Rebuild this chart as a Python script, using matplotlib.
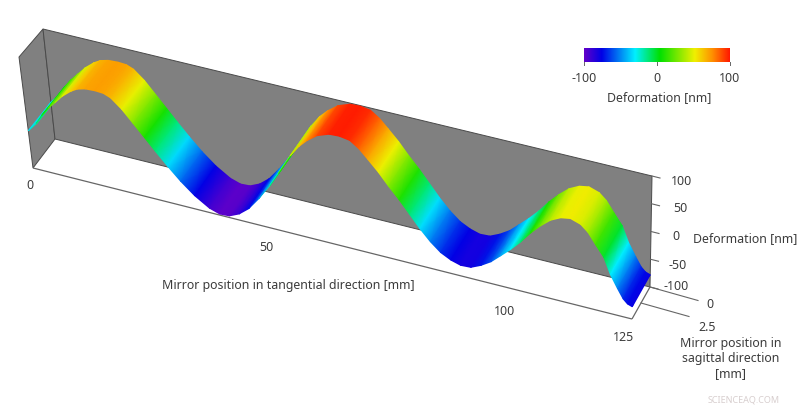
import numpy as np
import matplotlib
matplotlib.use("Agg")
import matplotlib.pyplot as plt
from matplotlib.colors import LinearSegmentedColormap, Normalize

plt.rcParams['font.family'] = ['Noto Sans', 'DejaVu Sans']

# Values
tangential_mm = [0, 1.9, 3.3, 4.8, 6.4, 8.1, 10, 11.4, 13.1, 15.1, 16.8, 18.2, 20.3, 22.4, 24.5, 26.5,
                 28.8, 31.3, 34, 36.9, 39, 41, 43.1, 45.2, 47.5, 50, 52, 54.7, 56.6, 58.3, 60.5, 63,
                 65.1, 67.2, 69, 70.7, 72.8, 74.8, 76.9, 79, 81, 83.1, 85.2, 87.3, 89.3, 91.4, 93.5,
                 95.6, 97.6, 99.7, 101.8, 103.9, 105.9, 108, 110.1, 112.1, 114.2, 115.7, 117.3, 119,
                 120.4, 121.9, 123.1, 124, 125]
deformation_nm = [-33, -16, 2, 18, 32, 47, 60, 67, 71, 72, 71, 66, 50, 29, 8, -12,
                  -34, -56, -76, -92, -98, -97, -89, -75, -52, -23, 3, 41, 62, 76, 90, 98,
                  99, 96, 85, 70, 51, 30, 10, -12, -33, -52, -67, -76, -81, -80, -72,
                  -61, -46, -30, -12, 9, 26, 41, 50, 53, 47, 36, 17, -2,
                  -30, -52, -68, -75, -78]
sagittal_mm = [0, 5]
z_ticks = [100, 50, 0, -50, -100]
t_ticks = [0, 50, 100, 125]
cbar_ticks = [-100, 0, 100]

T_MAX, S_MAX = 125.0, 5.0
# Pixel corners of the box: [s index][z index] at t=0 and t=max
C0 = np.array([[[55, 140], [43, 30]], [[33, 169], [19, 58]]], float)
C1 = np.array([[[650, 288], [652, 177]], [[632, 320], [634, 209]]], float)


def project(t, s, z):
    """Perspective-like trilinear mapping of data coordinates to picture pixels."""
    t, s, z = np.asarray(t, float), np.asarray(s, float), np.asarray(z, float)
    a = (t / T_MAX)[..., None]
    b = (s / S_MAX)[..., None]
    c = ((z + 100) / 200)[..., None]
    corner = lambda i, j: C0[i, j] * (1 - a) + C1[i, j] * a
    low = corner(0, 0) * (1 - b) + corner(1, 0) * b
    high = corner(0, 1) * (1 - b) + corner(1, 1) * b
    p = low * (1 - c) + high * c
    return p[..., 0], p[..., 1]


cmap = LinearSegmentedColormap.from_list("rainbowish", [
    (0.00, "#6200c8"), (0.12, "#0000e6"), (0.35, "#00f0ff"), (0.52, "#00e000"),
    (0.76, "#f0f000"), (0.88, "#ff9000"), (1.00, "#ff1800")])
norm = Normalize(-100, 100)

fig = plt.figure(figsize=(8, 4.1), dpi=100)
ax = fig.add_axes([0, 0, 1, 1])
ax.set_xlim(0, 800)
ax.set_ylim(410, 0)
ax.axis("off")

WALL, EDGE, TXT = "#808080", "#4a4a4a", "#3c3c3c"
FS = 8.9


def box_line(p, q, **kw):
    x, y = project(*zip(p, q))
    ax.plot(x, y, solid_capstyle="butt", **kw)


def box_face(pts):
    x, y = project(*zip(*pts))
    ax.fill(x, y, fc=WALL, ec=EDGE, lw=0.7, zorder=1)


# walls
box_face([(0, 0, -100), (0, 0, 100), (0, S_MAX, 100), (0, S_MAX, -100)])
box_face([(0, 0, -100), (0, 0, 100), (T_MAX, 0, 100), (T_MAX, 0, -100)])

# floor edges
box_line((0, S_MAX, -100), (T_MAX, S_MAX, -100), color="#666666", lw=0.9, zorder=1)
box_line((T_MAX, 0, -100), (T_MAX, S_MAX, -100), color="#666666", lw=0.9, zorder=1)

# deformation surface
tt, ss = np.meshgrid(tangential_mm, sagittal_mm)
zz = np.vstack([deformation_nm, deformation_nm])
X, Y = project(tt, ss, zz)
ax.pcolormesh(X, Y, zz, shading="gouraud", cmap=cmap, norm=norm, zorder=3, rasterized=True)

# z-axis ticks and labels
for v, (dx, dy) in zip(z_ticks, [(30, 5), (29, 4), (25, 4), (27, 5), (26, -1)]):
    x, y = project(T_MAX, 0, v)
    ax.plot([x, x + 8], [y, y + 2], color="#666666", lw=0.8, zorder=2)
    ax.text(x + dx, y + dy, str(v), ha="center", va="center", fontsize=FS, color=TXT)

# sagittal-axis ticks and labels
for v, (dx, dy) in zip([0, 2.5], [(60, 17), (66, 24)]):
    x, y = project(T_MAX, v, -100)
    ax.plot([x, x + 48], [y, y + 13.5], color="#666666", lw=0.8, zorder=2)
    ax.text(x + dx, y + dy, f"{v:g}", ha="center", va="center", fontsize=FS, color=TXT)

# tangential-axis labels
for v, (dx, dy) in zip(t_ticks, [(-3, 17), (-6, 18), (-8, 22), (-8, 18)]):
    x, y = project(v, S_MAX, -100)
    ax.text(x + dx, y + dy, str(v), ha="center", va="center", fontsize=FS, color=TXT)

ax.text(288, 286, "Mirror position in tangential direction [mm]", ha="center", va="center",
        fontsize=FS, color=TXT)
ax.text(745, 239, "Deformation [nm]", ha="center", va="center", fontsize=FS, color=TXT)
ax.text(731, 359, "Mirror position in\nsagittal direction\n[mm]", ha="center", va="center",
        fontsize=FS, color=TXT, linespacing=1.2)

# colour bar
gradient = np.linspace(-100, 100, 256)[None, :]
ax.imshow(gradient, extent=(584, 730, 63, 49), cmap=cmap, norm=norm, aspect="auto", zorder=3)
ax.set_xlim(0, 800)
ax.set_ylim(410, 0)
for v in cbar_ticks:
    x = 584 + (v + 100) / 200 * 146
    ax.plot([x, x], [63, 66], color="#666666", lw=0.7)
    ax.text(x, 78, str(v), ha="center", va="center", fontsize=FS, color=TXT)
ax.text(659, 98, "Deformation [nm]", ha="center", va="center", fontsize=FS, color=TXT)

ax.text(744, 400, "SCIENCEAQ.COM", ha="center", va="center", fontsize=6.5, color="#d8cfcf")

fig.savefig("out.png", dpi=100)
